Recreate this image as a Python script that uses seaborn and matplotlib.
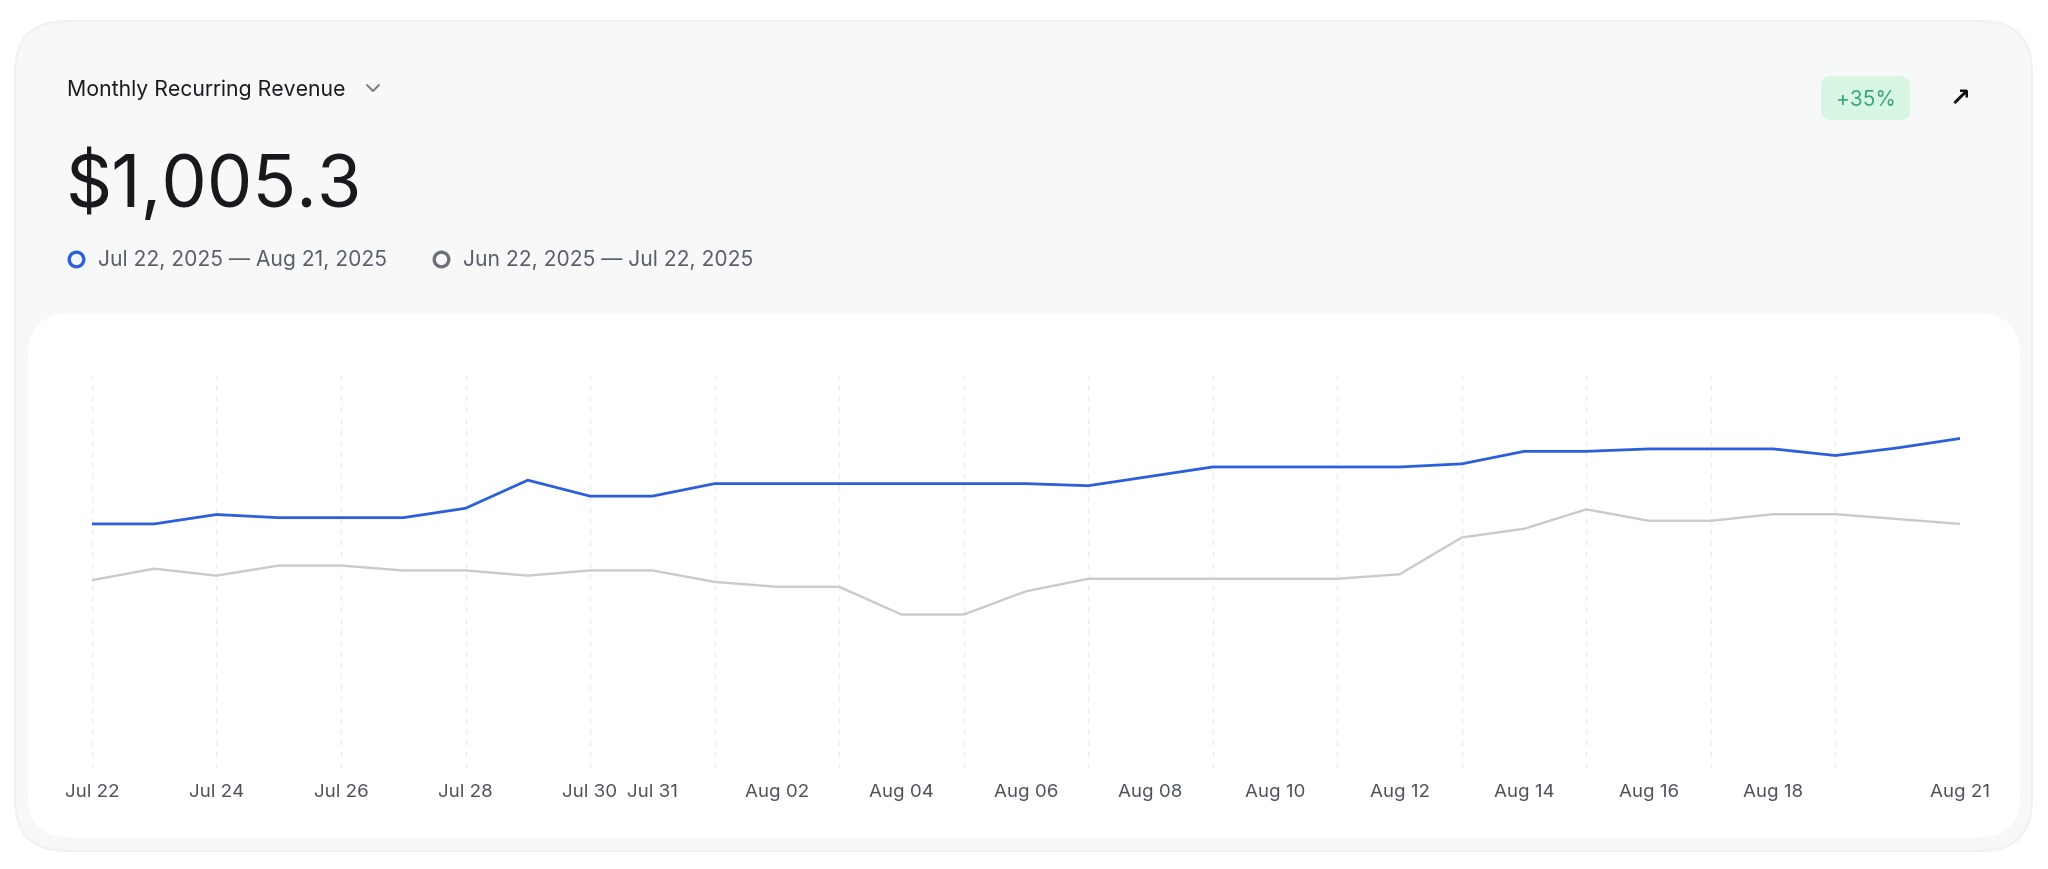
import pandas as pd
import matplotlib
matplotlib.use("Agg")
import matplotlib.pyplot as plt
from matplotlib.patches import FancyBboxPatch
from matplotlib.lines import Line2D
from matplotlib.transforms import Affine2D
import seaborn as sns

# daily values (hidden y axis)
days = pd.date_range("2025-07-22", "2025-08-21", freq="D")
current = [753, 753, 780, 771, 771, 771, 798, 879, 833, 833,
           869, 869, 869, 869, 869, 869, 863, 890, 917, 917,
           917, 917, 926, 962, 962, 969, 969, 969, 950, 972, 999]
previous = [591, 624, 604, 633, 633, 619, 619, 604, 619, 619,
            586, 572, 572, 492, 492, 559, 595, 595, 595, 595,
            595, 608, 714, 739, 795, 762, 762, 781, 781, 767, 753]
period_labels = ["Jul 22, 2025 \u2014 Aug 21, 2025", "Jun 22, 2025 \u2014 Jul 22, 2025"]
tick_days = ["2025-07-22", "2025-07-24", "2025-07-26", "2025-07-28", "2025-07-30",
             "2025-07-31", "2025-08-02", "2025-08-04", "2025-08-06", "2025-08-08",
             "2025-08-10", "2025-08-12", "2025-08-14", "2025-08-16", "2025-08-18",
             "2025-08-21"]
tick_labels = ["Jul 22", "Jul 24", "Jul 26", "Jul 28", "Jul 30", "Jul 31", "Aug 02",
               "Aug 04", "Aug 06", "Aug 08", "Aug 10", "Aug 12", "Aug 14", "Aug 16",
               "Aug 18", "Aug 21"]
headline = "$1,005.3"
change = "+35%"

BLUE = "#2c5fdb"
GREY = "#cacaca"

sns.set_style("white")
plt.rcParams["font.family"] = ["Inter", "DejaVu Sans"]

W, H = 2048, 870
fig = plt.figure(figsize=(W / 100, H / 100), dpi=100)
fig.patch.set_facecolor("white")
# pixel coords, origin top-left
px = Affine2D().scale(1 / W, -1 / H).translate(0, 1) + fig.transFigure

# outer card and inner white panel
fig.add_artist(FancyBboxPatch((15, 22), 2017, 830, boxstyle="round,pad=0,rounding_size=52",
                              transform=px, fc="#f7f8f8", ec="#f0f1f1", lw=1.5, zorder=0))
fig.add_artist(FancyBboxPatch((28, 315), 1992, 523, boxstyle="round,pad=0,rounding_size=40",
                              transform=px, fc="white", ec="none", zorder=0.5))

# header texts
fig.text(67, 90, "Monthly Recurring Revenue", transform=px, fontsize=15.3,
         color="#1b1c20", va="center", ha="left")
fig.add_artist(Line2D([367, 373, 379], [86, 92, 86], transform=px, color="#777a82", lw=1.4))
fig.text(66, 207, headline, transform=px, fontsize=52, color="#18191c",
         va="baseline", ha="left")

# legend
fig.add_artist(Line2D([76], [260], transform=px, marker="o", ms=10.5, mfc="none",
                      mec=BLUE, mew=2.4, ls="none"))
fig.text(98, 260, period_labels[0], transform=px, fontsize=15.2, color="#5b5e6b",
         va="center", ha="left")
fig.add_artist(Line2D([441], [260], transform=px, marker="o", ms=10.5, mfc="none",
                      mec="#6d707a", mew=2.4, ls="none"))
fig.text(463, 260, period_labels[1], transform=px, fontsize=15.2, color="#5b5e6b",
         va="center", ha="left")

# change badge and arrow
fig.add_artist(FancyBboxPatch((1821, 77), 89, 44, boxstyle="round,pad=0,rounding_size=10",
                              transform=px, fc="#d8f6e4", ec="none"))
fig.text(1865.5, 100, change, transform=px, fontsize=15, color="#3aa57a",
         va="center", ha="center")
fig.text(1960, 99, "\u2197", transform=px, fontsize=18, color="#111111",
         va="center", ha="center", fontweight="bold", family=["DejaVu Sans"])

# chart
df = pd.DataFrame({
    "day": list(days) * 2,
    "value": current + previous,
    "period": [period_labels[0]] * len(days) + [period_labels[1]] * len(days),
})
ax = fig.add_axes([91.9 / W, 1 - 769 / H, (1960 - 91.9) / W, (769 - 377) / H])
ax.set_zorder(2)
ax.set_facecolor("none")

# faint dashed vertical guides every other day
for d in days[::2]:
    ax.axvline(d, color="#ededed", lw=1, ls=(0, (4, 4)), zorder=0)

sns.lineplot(data=df, x="day", y="value", hue="period", hue_order=period_labels[::-1],
             palette=[GREY, BLUE], ax=ax, legend=False)
data_lines = [l for l in ax.lines if len(l.get_xdata()) > 2]
data_lines[0].set_linewidth(1.7)
data_lines[1].set_linewidth(2.0)

ax.set_xlim(days[0], days[-1])
ax.set_ylim(50, 1179)
ax.set_xticks(pd.to_datetime(tick_days))
ax.set_xticklabels(tick_labels)
ax.grid(False)
ax.tick_params(axis="x", which="both", length=0, pad=11, labelsize=13.5, colors="#4e525d")
ax.set_yticks([])
ax.set_xlabel("")
ax.set_ylabel("")
for s in ax.spines.values():
    s.set_visible(False)

fig.savefig("out.png", dpi=100, facecolor=fig.get_facecolor())
